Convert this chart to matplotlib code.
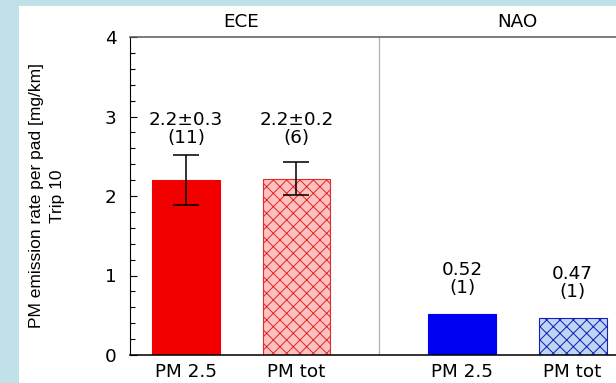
import numpy as np
import matplotlib.pyplot as plt
from matplotlib.patches import Rectangle
from matplotlib.ticker import MultipleLocator

# Data
groups = ['ECE', 'NAO']
categories = ['PM 2.5', 'PM tot']
values = [[2.20, 2.22], [0.52, 0.47]]
errors = [[0.31, 0.21], [0.0, 0.0]]
labels = [['2.2±0.3\n(11)', '2.2±0.2\n(6)'], ['0.52\n(1)', '0.47\n(1)']]

faces = [['#f20000', '#ffc0c0'], ['#0000f2', '#bcd6f4']]
edges = [['#f20000', '#e02a2a'], ['#0000f2', '#1c1cb8']]
hatches = [[None, 'xx'], [None, 'xx']]

plt.rcParams['font.family'] = ['DejaVu Sans']
plt.rcParams['hatch.linewidth'] = 0.9

W, H, DPI = 616, 383, 80
fig = plt.figure(figsize=(W / DPI, H / DPI), dpi=DPI, facecolor='#bfe1e7')
fig.patches.append(Rectangle((19 / W, 0), 1, (H - 6) / H, transform=fig.transFigure,
                             facecolor='white', edgecolor='none', zorder=-10))

ax = fig.add_axes([130 / W, 28 / H, 520 / W, 318 / H])
ax.set_facecolor('white')

fs = 16.5
gap = 2.5
width = 0.615
xticks, xlabels = [], []
for g, name in enumerate(groups):
    xs = g * gap + np.arange(len(categories))
    v = np.array(values[g])
    e = np.array(errors[g])
    for i in range(len(categories)):
        ax.bar(xs[i], v[i], width, color=faces[g][i], edgecolor=edges[g][i],
               hatch=hatches[g][i], linewidth=1.0, zorder=2)
        if e[i] > 0:
            ax.errorbar(xs[i], v[i], yerr=e[i], color='black', lw=1.4,
                        capsize=11.5, capthick=1.4, zorder=3)
        if e.max() > 0:
            ty = (v + e).max() + 0.11
        else:
            ty = v[i] + 0.21
        ax.text(xs[i], ty, labels[g][i], ha='center', va='bottom',
                fontsize=fs, linespacing=1.0, zorder=4)
    xticks += list(xs)
    xlabels += categories
    ax.text(xs.mean(), 4 + 0.19, name, ha='center', va='center', fontsize=fs)

ax.axvline(gap - 0.75, color='#b4b4b4', lw=1.2, zorder=1)

ax.set_xlim(-0.507, 4.2)
ax.set_ylim(0, 4)
ax.set_xticks(xticks)
ax.set_xticklabels(xlabels, fontsize=fs)
ax.tick_params(axis='x', length=0, pad=7)
ax.yaxis.set_major_locator(MultipleLocator(1))
ax.yaxis.set_minor_locator(MultipleLocator(0.2))
ax.tick_params(axis='y', which='major', direction='in', length=6, width=1,
               labelsize=fs, pad=12)
ax.tick_params(axis='y', which='minor', direction='in', length=4.5, width=1)

ax.spines['right'].set_visible(False)
ax.spines['top'].set_color('#5a5a5a')
ax.spines['top'].set_linewidth(1.4)
ax.spines['bottom'].set_linewidth(1.4)
ax.spines['left'].set_linewidth(1.0)

fig.text(47 / W, 1 - 196 / H, 'PM emission rate per pad [mg/km]\nTrip 10',
         rotation=90, ha='center', va='center', multialignment='center',
         fontsize=15.7, linespacing=1.45,
         family=['Liberation Sans', 'DejaVu Sans'])

fig.savefig('out.png', dpi=DPI, facecolor=fig.get_facecolor())
